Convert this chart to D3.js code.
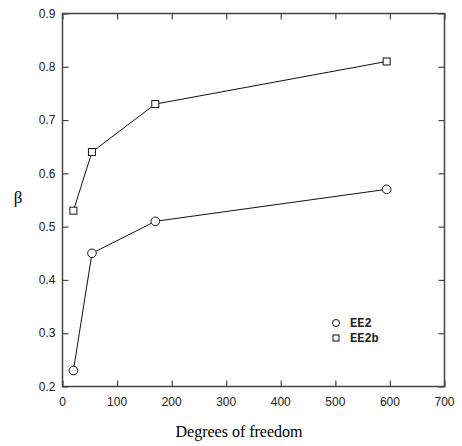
<!DOCTYPE html>
<html>
<head>
<meta charset="utf-8">
<script src="https://cdn.jsdelivr.net/npm/d3@7"></script>
<style>
body { margin: 0; background: #fff; }
</style>
</head>
<body>
<div id="svgWrapper"></div>
<script>
// data
var dof = [20, 54, 170, 594];
var ee2 = [0.23, 0.45, 0.51, 0.57];
var ee2b = [0.53, 0.64, 0.73, 0.81];
var xTicks = [0, 100, 200, 300, 400, 500, 600, 700];
var yTicks = [0.2, 0.3, 0.4, 0.5, 0.6, 0.7, 0.8, 0.9];
var seriesNames = ["EE2", "EE2b"];

var fullWidth = 462, fullHeight = 446;
var plotLeft = 62.5, plotRight = 444.5, plotTop = 13.5, plotBottom = 386.5;

var svg = d3.select("#svgWrapper")
	.append("svg")
	.attr("width", fullWidth)
	.attr("height", fullHeight);

var xScale = d3.scaleLinear().domain([0, 700]).range([plotLeft, plotRight]);
var yScale = d3.scaleLinear().domain([0.2, 0.9]).range([plotBottom, plotTop]);

var axisColor = "#444";
var tickLen = 6;

// frame
svg.append("rect")
	.attr("x", plotLeft).attr("y", plotTop)
	.attr("width", plotRight - plotLeft).attr("height", plotBottom - plotTop)
	.attr("fill", "none").attr("stroke", axisColor).attr("stroke-width", 1.5);

// inward ticks on all four sides
var bx = svg.append("g").attr("transform", "translate(0," + plotBottom + ")")
	.call(d3.axisTop(xScale).tickValues(xTicks).tickSize(tickLen).tickFormat(""));
var tx = svg.append("g").attr("transform", "translate(0," + plotTop + ")")
	.call(d3.axisBottom(xScale).tickValues(xTicks).tickSize(tickLen).tickFormat(""));
var ly = svg.append("g").attr("transform", "translate(" + plotLeft + ",0)")
	.call(d3.axisRight(yScale).tickValues(yTicks).tickSize(tickLen).tickFormat(""));
var ry = svg.append("g").attr("transform", "translate(" + plotRight + ",0)")
	.call(d3.axisLeft(yScale).tickValues(yTicks).tickSize(tickLen).tickFormat(""));
[bx, tx, ly, ry].forEach(function(g) {
	g.select(".domain").remove();
	g.selectAll("line").attr("stroke", axisColor).attr("stroke-width", 1.2);
});

// tick labels
svg.append("g").selectAll("text")
	.data(xTicks).enter().append("text")
	.attr("x", function(d) { return xScale(d); })
	.attr("y", plotBottom + 19.5)
	.attr("text-anchor", "middle")
	.style("font-family", "'Liberation Sans', Arial, sans-serif")
	.style("font-size", "12px")
	.attr("fill", "#222")
	.text(function(d) { return d; });

svg.append("g").selectAll("text")
	.data(yTicks).enter().append("text")
	.attr("x", plotLeft - 7)
	.attr("y", function(d) { return yScale(d) + 4.2; })
	.attr("text-anchor", "end")
	.style("font-family", "'Liberation Sans', Arial, sans-serif")
	.style("font-size", "12px")
	.attr("fill", "#222")
	.text(function(d) { return d3.format(".1f")(d); });

// axis titles
svg.append("text")
	.attr("x", 239).attr("y", 437)
	.attr("text-anchor", "middle")
	.style("font-family", "'Liberation Serif', 'Times New Roman', serif")
	.style("font-size", "16px")
	.text("Degrees of freedom");

svg.append("text")
	.attr("x", 18).attr("y", 203)
	.attr("text-anchor", "middle")
	.style("font-family", "'Liberation Serif', 'Times New Roman', serif")
	.style("font-size", "17px")
	.text("β");

// lines
var line = d3.line()
	.x(function(d, i) { return xScale(dof[i]); })
	.y(function(d) { return yScale(d); });

[ee2, ee2b].forEach(function(s) {
	svg.append("path")
		.attr("d", line(s))
		.attr("fill", "none")
		.attr("stroke", "#111")
		.attr("stroke-width", 1);
});

// markers
svg.append("g").selectAll("circle")
	.data(ee2).enter().append("circle")
	.attr("cx", function(d, i) { return xScale(dof[i]); })
	.attr("cy", function(d) { return yScale(d); })
	.attr("r", 4.3)
	.attr("fill", "#fff").attr("stroke", "#111").attr("stroke-width", 1);

var sq = 7;
svg.append("g").selectAll("rect")
	.data(ee2b).enter().append("rect")
	.attr("x", function(d, i) { return xScale(dof[i]) - sq / 2; })
	.attr("y", function(d) { return yScale(d) - sq / 2; })
	.attr("width", sq).attr("height", sq)
	.attr("fill", "#fff").attr("stroke", "#111").attr("stroke-width", 1);

// legend
var legend = svg.append("g");
legend.append("circle")
	.attr("cx", 336).attr("cy", 323).attr("r", 3.5)
	.attr("fill", "#fff").attr("stroke", "#111").attr("stroke-width", 1);
legend.append("rect")
	.attr("x", 333).attr("y", 335).attr("width", 6).attr("height", 6)
	.attr("fill", "#fff").attr("stroke", "#111").attr("stroke-width", 1);
legend.selectAll("text")
	.data(seriesNames).enter().append("text")
	.attr("x", 350)
	.attr("y", function(d, i) { return 327 + i * 15; })
	.style("font-family", "'Liberation Mono', 'Courier New', monospace")
	.style("font-weight", "bold")
	.style("font-size", "12px")
	.attr("fill", "#222")
	.text(function(d) { return d; });
</script>
</body>
</html>
